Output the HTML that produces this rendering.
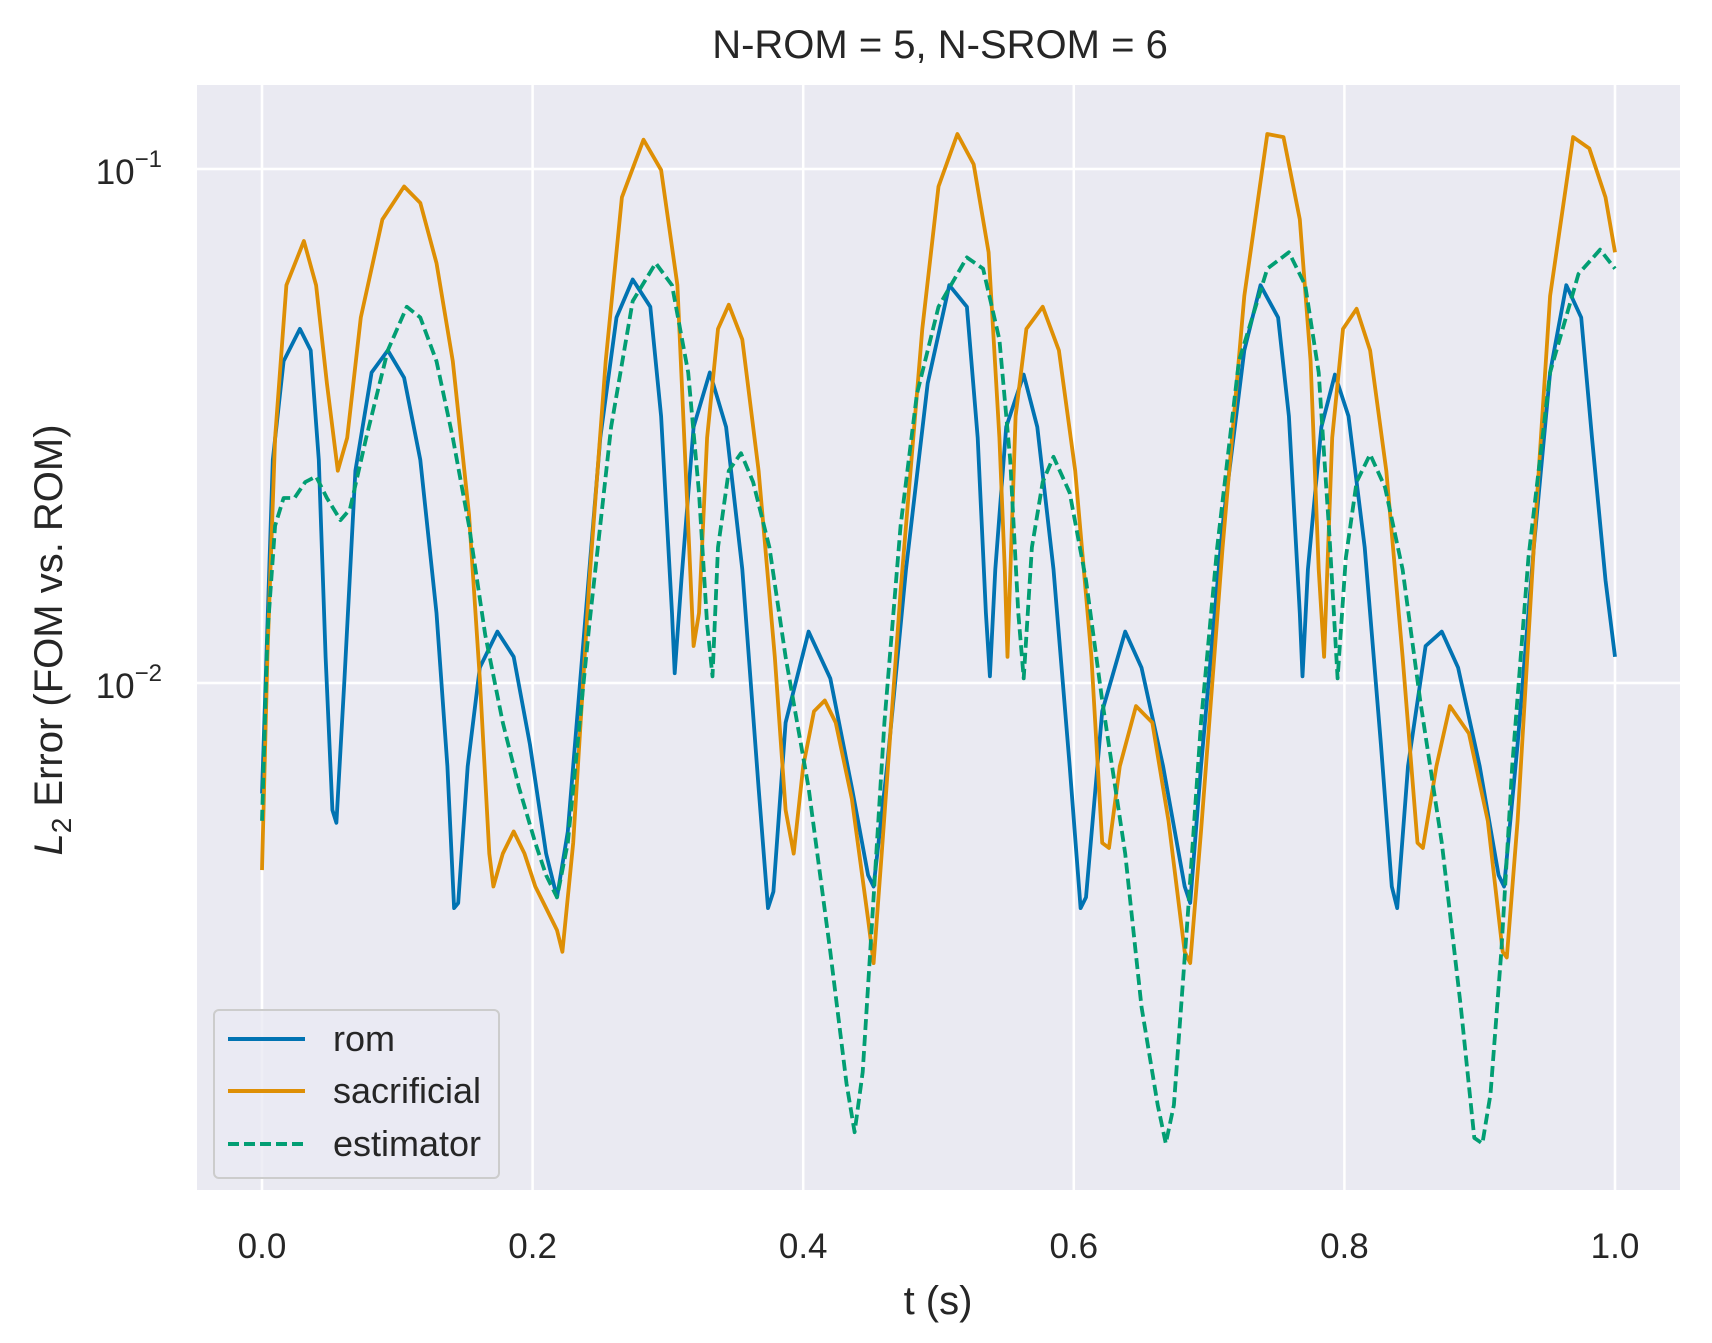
<!DOCTYPE html>
<html><head><meta charset="utf-8"><style>
html,body{margin:0;padding:0;background:#fff;}
svg{display:block;font-family:"Liberation Sans",sans-serif;}
</style></head><body>
<svg id="chart" width="1712" height="1343" viewBox="0 0 1712 1343" xmlns="http://www.w3.org/2000/svg">
<defs><clipPath id="pc"><rect x="197" y="85" width="1483" height="1105"/></clipPath></defs>
<rect x="197" y="85" width="1483" height="1105" fill="#eaeaf2"/>
<g id="grid"></g>
<g id="series" clip-path="url(#pc)"></g>
<g id="ticks"></g>
<text x="940" y="58" font-size="40" text-anchor="middle" fill="#262626">N-ROM = 5, N-SROM = 6</text>
<text x="938" y="1314" font-size="40" text-anchor="middle" fill="#262626">t (s)</text>
<text transform="translate(62,640) rotate(-90)" font-size="40" text-anchor="middle" fill="#262626"><tspan font-style="italic">L</tspan><tspan font-size="28" dy="9">2</tspan><tspan dy="-9"> Error (FOM vs. ROM)</tspan></text>
<g>
<rect x="214" y="1010" width="285" height="168" rx="5" fill="#eaeaf2" fill-opacity="0.8" stroke="#cccccc" stroke-width="2"/>
<line x1="228" y1="1039" x2="305" y2="1039" stroke="#0173b2" stroke-width="4"/>
<text x="333" y="1051" font-size="36" fill="#262626">rom</text>
<line x1="228" y1="1091" x2="305" y2="1091" stroke="#de8f05" stroke-width="4"/>
<text x="333" y="1103" font-size="36" fill="#262626">sacrificial</text>
<line x1="228" y1="1144" x2="305" y2="1144" stroke="#029e73" stroke-width="4" stroke-dasharray="11,5"/>
<text x="333" y="1156" font-size="36" fill="#262626">estimator</text>
</g>
</svg>
<script>
const xTicks=[0,0.2,0.4,0.6,0.8,1.0];
const xTickLabels=["0.0","0.2","0.4","0.6","0.8","1.0"];
const yTickExps=[-1,-2];
const romT=[0,.008,.016,.028,.036,.042,.047,.052,.055,.061,.069,.081,.093,.105,.117,.129,.137,.142,.145,.152,.161,.174,.186,.198,.210,.218,.226,.238,.250,.262,.274,.287,.295,.303,.305,.310,.319,.331,.343,.355,.367,.374,.378,.387,.404,.420,.436,.448,.452,.462,.476,.492,.508,.521,.529,.535,.538,.542,.550,.563,.573,.585,.597,.605,.609,.621,.638,.650,.666,.682,.686,.694,.710,.726,.738,.751,.759,.767,.769,.773,.783,.793,.803,.815,.827,.835,.839,.847,.860,.872,.884,.900,.914,.918,.928,.940,.952,.964,.975,.983,.993,1.0];
const romLogErr=[-2.215,-1.566,-1.374,-1.311,-1.353,-1.566,-1.949,-2.247,-2.272,-1.991,-1.587,-1.396,-1.353,-1.406,-1.566,-1.864,-2.162,-2.438,-2.428,-2.162,-1.970,-1.900,-1.949,-2.119,-2.332,-2.417,-2.289,-1.906,-1.523,-1.289,-1.215,-1.268,-1.481,-1.864,-1.981,-1.800,-1.502,-1.396,-1.502,-1.779,-2.204,-2.438,-2.406,-2.077,-1.900,-1.991,-2.204,-2.374,-2.396,-2.162,-1.779,-1.417,-1.226,-1.268,-1.523,-1.864,-1.987,-1.779,-1.502,-1.400,-1.502,-1.779,-2.162,-2.438,-2.417,-2.055,-1.900,-1.970,-2.162,-2.396,-2.428,-2.162,-1.694,-1.353,-1.226,-1.289,-1.481,-1.864,-1.987,-1.779,-1.502,-1.400,-1.481,-1.736,-2.119,-2.396,-2.438,-2.162,-1.928,-1.900,-1.970,-2.162,-2.374,-2.396,-2.119,-1.736,-1.396,-1.226,-1.289,-1.523,-1.800,-1.949];
const sacT=[0,.004,.0097,.018,.031,.040,.048,.056,.063,.073,.089,.105,.117,.129,.141,.153,.161,.168,.171,.178,.186,.194,.202,.210,.218,.222,.230,.242,.254,.266,.282,.295,.307,.315,.319,.323,.329,.337,.345,.355,.367,.379,.387,.393,.400,.408,.416,.424,.436,.448,.452,.458,.472,.488,.500,.514,.526,.537,.545,.549,.551,.557,.565,.577,.589,.601,.613,.621,.626,.634,.646,.658,.670,.682,.686,.694,.710,.726,.743,.755,.767,.775,.781,.785,.791,.799,.809,.819,.831,.843,.854,.858,.868,.878,.892,.906,.917,.920,.928,.940,.952,.969,.981,.993,1.0];
const sacLogErr=[-2.364,-1.949,-1.523,-1.226,-1.140,-1.226,-1.417,-1.587,-1.523,-1.289,-1.098,-1.034,-1.066,-1.183,-1.374,-1.672,-1.991,-2.332,-2.396,-2.332,-2.289,-2.332,-2.396,-2.438,-2.481,-2.523,-2.311,-1.800,-1.374,-1.055,-0.943,-1.002,-1.226,-1.694,-1.928,-1.864,-1.523,-1.311,-1.264,-1.332,-1.587,-1.949,-2.247,-2.332,-2.162,-2.055,-2.034,-2.077,-2.226,-2.460,-2.545,-2.332,-1.821,-1.311,-1.034,-0.932,-0.991,-1.162,-1.523,-1.779,-1.949,-1.481,-1.311,-1.268,-1.353,-1.587,-1.949,-2.311,-2.321,-2.162,-2.045,-2.077,-2.268,-2.523,-2.545,-2.289,-1.736,-1.247,-0.932,-0.938,-1.098,-1.374,-1.779,-1.949,-1.523,-1.311,-1.272,-1.353,-1.587,-1.949,-2.311,-2.321,-2.162,-2.045,-2.098,-2.268,-2.523,-2.534,-2.268,-1.736,-1.247,-0.938,-0.960,-1.055,-1.162];
const estT=[0,.004,.0097,.016,.024,.032,.040,.048,.058,.065,.077,.093,.107,.117,.129,.141,.153,.165,.178,.190,.202,.210,.218,.226,.242,.258,.274,.291,.303,.315,.323,.329,.333,.337,.345,.354,.363,.375,.387,.404,.420,.432,.438,.444,.452,.460,.472,.484,.500,.521,.533,.545,.553,.559,.563,.569,.577,.585,.597,.609,.621,.638,.650,.662,.668,.674,.684,.694,.706,.722,.743,.759,.771,.781,.789,.795,.801,.809,.819,.830,.843,.856,.872,.886,.896,.902,.908,.916,.924,.936,.952,.973,.989,1.0];
const estLogErr=[-2.268,-1.906,-1.694,-1.640,-1.640,-1.609,-1.598,-1.640,-1.683,-1.662,-1.523,-1.353,-1.268,-1.289,-1.374,-1.523,-1.694,-1.906,-2.077,-2.204,-2.311,-2.374,-2.417,-2.311,-1.885,-1.502,-1.257,-1.183,-1.226,-1.396,-1.630,-1.885,-1.987,-1.736,-1.587,-1.553,-1.609,-1.736,-1.949,-2.204,-2.523,-2.779,-2.874,-2.757,-2.417,-2.077,-1.694,-1.438,-1.268,-1.172,-1.194,-1.332,-1.566,-1.864,-1.991,-1.736,-1.609,-1.560,-1.630,-1.800,-2.034,-2.332,-2.630,-2.821,-2.896,-2.821,-2.460,-2.077,-1.736,-1.374,-1.194,-1.162,-1.226,-1.396,-1.715,-1.991,-1.757,-1.609,-1.555,-1.619,-1.779,-2.034,-2.311,-2.630,-2.885,-2.896,-2.800,-2.523,-2.162,-1.757,-1.396,-1.204,-1.157,-1.194];

const NS="http://www.w3.org/2000/svg";
function xs(t){return 262+t*1353;}
function ys(l){return 169+(-1-l)*514;}
function mk(tag,attrs,parent){const e=document.createElementNS(NS,tag);for(const k in attrs)e.setAttribute(k,attrs[k]);parent.appendChild(e);return e;}
const grid=document.getElementById('grid'),ticks=document.getElementById('ticks'),series=document.getElementById('series');
xTicks.forEach((t,i)=>{
  const g=mk('line',{x1:xs(t),x2:xs(t),y1:85,y2:1190,stroke:'#fff','stroke-width':2.5},grid);
  
  
  const tx=mk('text',{x:xs(t),y:1258,'font-size':35,'text-anchor':'middle',fill:'#262626'},ticks);
  tx.textContent=xTickLabels[i];
  
  
});
yTickExps.forEach(ex=>{
  const g=mk('line',{x1:197,x2:1680,y1:ys(ex),y2:ys(ex),stroke:'#fff','stroke-width':2.5},grid);
  
  
  const tx=mk('text',{x:162,y:ys(ex)+15,'font-size':35,'text-anchor':'end',fill:'#262626'},ticks);
  
  
  const a=document.createElementNS(NS,'tspan');a.textContent='10';tx.appendChild(a);
  const b=document.createElementNS(NS,'tspan');b.setAttribute('dy','-17');b.setAttribute('font-size','24');b.textContent='\u2212'+Math.abs(ex);tx.appendChild(b);
});
function draw(T,L,color,dash,name){
  const n=Math.min(T.length,L.length);let d='';
  for(let i=0;i<n;i++)d+=(i?'L':'M')+xs(T[i]).toFixed(1)+','+ys(L[i]).toFixed(1);
  const p=mk('path',{d:d,fill:'none',stroke:color,'stroke-width':3.8,'stroke-linejoin':'round','stroke-linecap':'butt'},series);
  if(dash)p.setAttribute('stroke-dasharray',dash);
  
  
}
draw(romT,romLogErr,'#0173b2',null,'rom-line');
draw(sacT,sacLogErr,'#de8f05',null,'sacrificial-line');
draw(estT,estLogErr,'#029e73','11,5','estimator-line');
</script>
</body></html>
